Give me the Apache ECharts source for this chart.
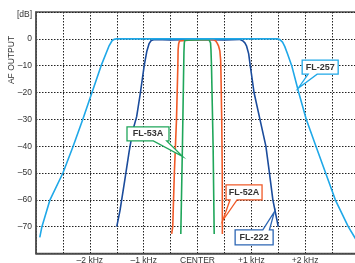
<!DOCTYPE html>
<html><head><meta charset="utf-8">
<script src="https://cdn.jsdelivr.net/npm/echarts@6/dist/echarts.min.js"></script>
<style>html,body{margin:0;padding:0;background:#fff}#c{width:355px;height:263px}</style>
</head><body><div id="c"></div>
<script>
// ---- data (x in kHz from center, y in dB) ----
const xTickLabels = {'-2':'–2 kHz','-1':'–1 kHz','0':'CENTER','1':'+1 kHz','2':'+2 kHz'};
const yUnitLabel = '[dB]';
const yAxisName = 'AF OUTPUT';

const fl257 = [[-2.93,-74],[-2.89,-70],[-2.74,-60],[-2.50,-50],[-2.31,-40],[-2.13,-30],[-1.96,-20],[-1.79,-10],[-1.64,-2.5],[-1.59,-0.8],[-1.55,-0.2],[-1.50,0],[1.48,0],[1.53,-0.3],[1.58,-1.2],[1.62,-2.8],[1.67,-5.5],[1.75,-10],[1.88,-20],[2.02,-30],[2.20,-40],[2.38,-50],[2.56,-60],[2.80,-70],[2.95,-75]];
const fl222 = [[-1.50,-70],[-1.44,-64],[-1.35,-52.6],[-1.27,-42],[-1.20,-34],[-1.13,-29],[-1.06,-20],[-0.99,-10],[-0.94,-4.5],[-0.90,-1.8],[-0.86,-0.6],[-0.80,-0.2],[-0.5,-0.4],[0,-0.2],[0.5,-0.4],[0.78,-0.2],[0.84,-0.7],[0.88,-1.5],[0.91,-2.6],[0.95,-5.5],[0.98,-10],[1.05,-20],[1.16,-30],[1.27,-40],[1.33,-49],[1.40,-60],[1.50,-70]];
const fl52a = [[-0.48,-72.7],[-0.46,-70],[-0.43,-50],[-0.39,-30],[-0.365,-10],[-0.36,-4],[-0.35,-1.8],[-0.335,-0.8],[-0.30,-0.3],[0,-0.2],[0.30,-0.3],[0.34,-0.8],[0.365,-1.6],[0.39,-2.6],[0.415,-4.5],[0.43,-8],[0.435,-12],[0.45,-30],[0.46,-50],[0.462,-72.7]];
const fl53a = [[-0.31,-72.7],[-0.28,-40],[-0.26,-15],[-0.252,-5],[-0.245,-1.5],[-0.235,-0.5],[-0.21,-0.2],[0.21,-0.2],[0.232,-0.6],[0.242,-1.5],[0.25,-4],[0.26,-10],[0.275,-25],[0.29,-40],[0.31,-72.7]];

const seriesNames = ['FL-222','FL-52A','FL-53A','FL-257'];
const seriesData  = [fl222, fl52a, fl53a, fl257];
const seriesColors = ['#1B4C9C','#F05A28','#1FA65A','#1FA8E8'];

// callout anchors (data coords the pointer touches)
const calloutNames = ['FL-257','FL-53A','FL-52A','FL-222'];
const calloutTips  = [[1.87,-18.4],[-0.275,-43.9],[0.469,-67.7],[1.429,-64.4]];
const calloutColors = ['#1FA8E8','#1FA65A','#F05A28','#2C66B4'];
// box geometry relative to the tip in px: [x1,y1,x2,y2], pointer base [b1,b2], edge
const calloutGeom = [
  {box:[4,-28,40,-14], base:[10,19], edge:'bottom'},
  {box:[-55.7,-29.7,-13.7,-15.7], base:[-29.4,-16], edge:'bottom'},
  {box:[3.3,-35.7,39.3,-20.7], base:[7.3,14.3], edge:'bottom'},
  {box:[-39.3,18.3,-1.3,33.3], base:[-11.6,-5], edge:'top'}
];

const FONT = '"Liberation Sans", Arial, sans-serif';
const chart = echarts.init(document.getElementById('c'), null, {renderer:'canvas'});

const option = {
  animation:false,
  backgroundColor:'#fff',
  grid:{left:36, top:12, width:323, height:241.5, outerBoundsMode:'none', containLabel:false,
    show:true, borderColor:'#505050', borderWidth:1.5, backgroundColor:'transparent'},
  xAxis:{
    type:'value', min:-3, max:3, interval:0.5,
    axisLine:{show:true, onZero:false, lineStyle:{color:'#505050', width:1.5}},
    axisTick:{show:false},
    splitLine:{show:true, lineStyle:{color:'#222', width:1, type:[1.5,1.5]}},
    axisLabel:{show:true, margin:3, fontSize:8.5, color:'#333', fontFamily:FONT, showMinLabel:true, showMaxLabel:true,
      formatter:v=>{const k=String(Math.round(v*100)/100); return xTickLabels[k]||'';}}
  },
  yAxis:{
    type:'value', min:-80, max:10, interval:10,
    axisLine:{show:true, onZero:false, lineStyle:{color:'#505050', width:1.5}},
    axisTick:{show:false},
    splitLine:{show:true, lineStyle:{color:'#222', width:1, type:[1.5,1.5]}},
    axisLabel:{show:true, margin:4, fontSize:8.5, color:'#333', fontFamily:FONT, showMinLabel:true, showMaxLabel:true,
      formatter:v=>{ if(v===10) return '{db|'+yUnitLabel+'}'; if(v===-80) return ''; return String(v).replace('-','–'); },
      rich:{db:{fontSize:8.5, color:'#333', fontFamily:FONT, padding:[6,0,0,0]}}}
  },
  series: seriesNames.map((n,i)=>({
    name:n, type:'line', data:seriesData[i], showSymbol:false, symbol:'none', smooth:false,
    lineStyle:{color:seriesColors[i], width:1.6}, z:2+i, silent:true
  })),
  graphic:[]
};
chart.setOption(option);

const g = [{
  type:'text', x:12, y:60, rotation:Math.PI/2,
  style:{text:yAxisName, fontSize:8.5, fill:'#333', fontFamily:FONT, align:'center', verticalAlign:'middle'}
}];
calloutNames.forEach((name,i)=>{
  const t = chart.convertToPixel({xAxisIndex:0,yAxisIndex:0}, calloutTips[i]);
  const gm = calloutGeom[i]; const [x1,y1,x2,y2] = gm.box; const [b1,b2] = gm.base;
  let pts;
  if(gm.edge==='bottom') pts=[[x1,y1],[x2,y1],[x2,y2],[b2,y2],[0,0],[b1,y2],[x1,y2]];
  else pts=[[x1,y1],[b1,y1],[0,0],[b2,y1],[x2,y1],[x2,y2],[x1,y2]];
  g.push({type:'polygon', z:100, shape:{points:pts.map(p=>[t[0]+p[0], t[1]+p[1]])},
    style:{fill:'#fff', stroke:calloutColors[i], lineWidth:1.3}});
  g.push({type:'text', z:101, x:t[0]+(x1+x2)/2, y:t[1]+(y1+y2)/2,
    style:{text:name, fontSize:9, fontWeight:'bold', fill:'#333', fontFamily:FONT, align:'center', verticalAlign:'middle'}});
});
chart.setOption({graphic:g});
</script></body></html>
